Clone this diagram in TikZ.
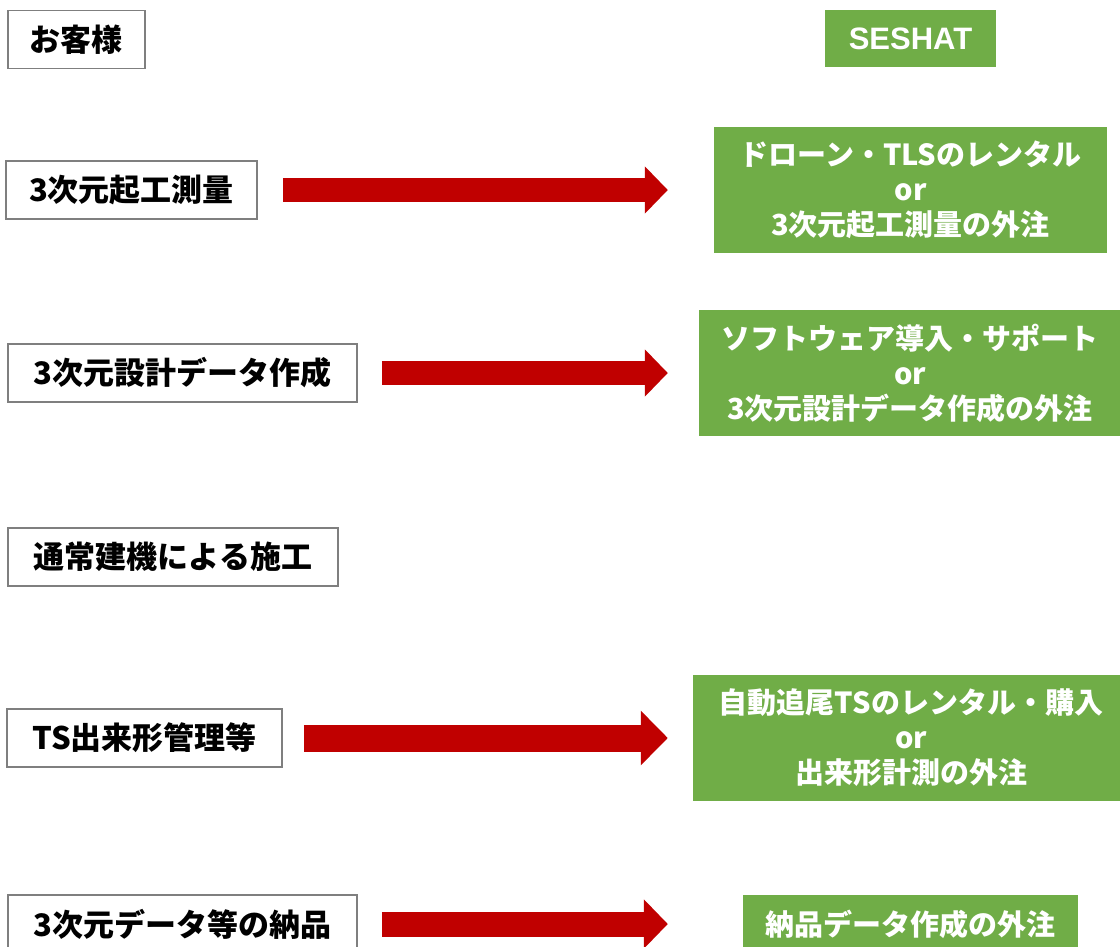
\documentclass[tikz,border=0pt]{standalone}
\usepackage{fontspec}
\setmainfont{Noto Sans CJK JP}
\newfontfamily\latinbold{Liberation Sans}
\usepackage{tikz}
\usetikzlibrary{arrows.meta,positioning}
\usepackage{xcolor}
\definecolor{ssgreen}{RGB}{112,173,71}
\definecolor{ssred}{RGB}{192,0,0}
\definecolor{ssgray}{RGB}{127,127,127}
\tikzstyle{custbox} = [draw=ssgray, line width=1.5pt, fill=white, minimum height=58pt, inner sep=0pt, font=\fontsize{31}{36}\selectfont\bfseries]
\tikzstyle{svcbox} = [fill=ssgreen, text=white, align=center, inner sep=0pt, font=\fontsize{29}{35}\selectfont\bfseries]
\tikzstyle{bigarrow} = [ssred, line width=24pt, -{Triangle[length=23pt,width=46pt]}]

\begin{document}
\begin{tikzpicture}[x=1pt,y=-1pt]
\useasboundingbox (0,0) rectangle (1120,946);

% Customer side
\node[custbox, minimum width=137pt] (cust) at (76.5,39.5) {お客様};
\node[custbox, minimum width=251pt] (survey) at (131.5,190) {3次元起工測量};
\node[custbox, minimum width=349pt] (design) at (182.5,373) {3次元設計データ作成};
\node[custbox, minimum width=330pt] (build) at (173,557) {通常建機による施工};
\node[custbox, minimum width=275pt] (tsmgmt) at (144.5,738) {TS出来形管理等};
\node[custbox, minimum width=349pt] (deliver) at (182.5,924) {3次元データ等の納品};

% SESHAT side
\node[svcbox, minimum width=171pt, minimum height=57pt, font=\fontsize{31}{36}\selectfont\latinbold\bfseries] (seshat) at (910.5,38.5) {SESHAT};
\node[svcbox, minimum width=393pt, minimum height=126pt] (rent) at (910.5,190) {ドローン・TLSのレンタル\\or\\3次元起工測量の外注};
\node[svcbox, minimum width=422pt, minimum height=126pt] (soft) at (910,373) {ソフトウェア導入・サポート\\or\\3次元設計データ作成の外注};
\node[svcbox, minimum width=436pt, minimum height=126pt] (tsrent) at (911,738) {自動追尾TSのレンタル・購入\\or\\出来形計測の外注};
\node[svcbox, minimum width=335pt, minimum height=58pt] (data) at (910.5,924) {納品データ作成の外注};

% Arrows
\draw[bigarrow, shorten <=25pt, shorten >=46pt] (survey) -- (rent);
\draw[bigarrow, shorten <=24pt, shorten >=31pt] (design) -- (soft);
\draw[bigarrow, line width=27pt, -{Triangle[length=27pt,width=53pt]}, shorten <=21pt, shorten >=25pt] (tsmgmt) -- (tsrent);
\draw[bigarrow, line width=25pt, -{Triangle[length=24pt,width=48pt]}, shorten <=24pt, shorten >=75pt] (deliver) -- (data);
\end{tikzpicture}
\end{document}
